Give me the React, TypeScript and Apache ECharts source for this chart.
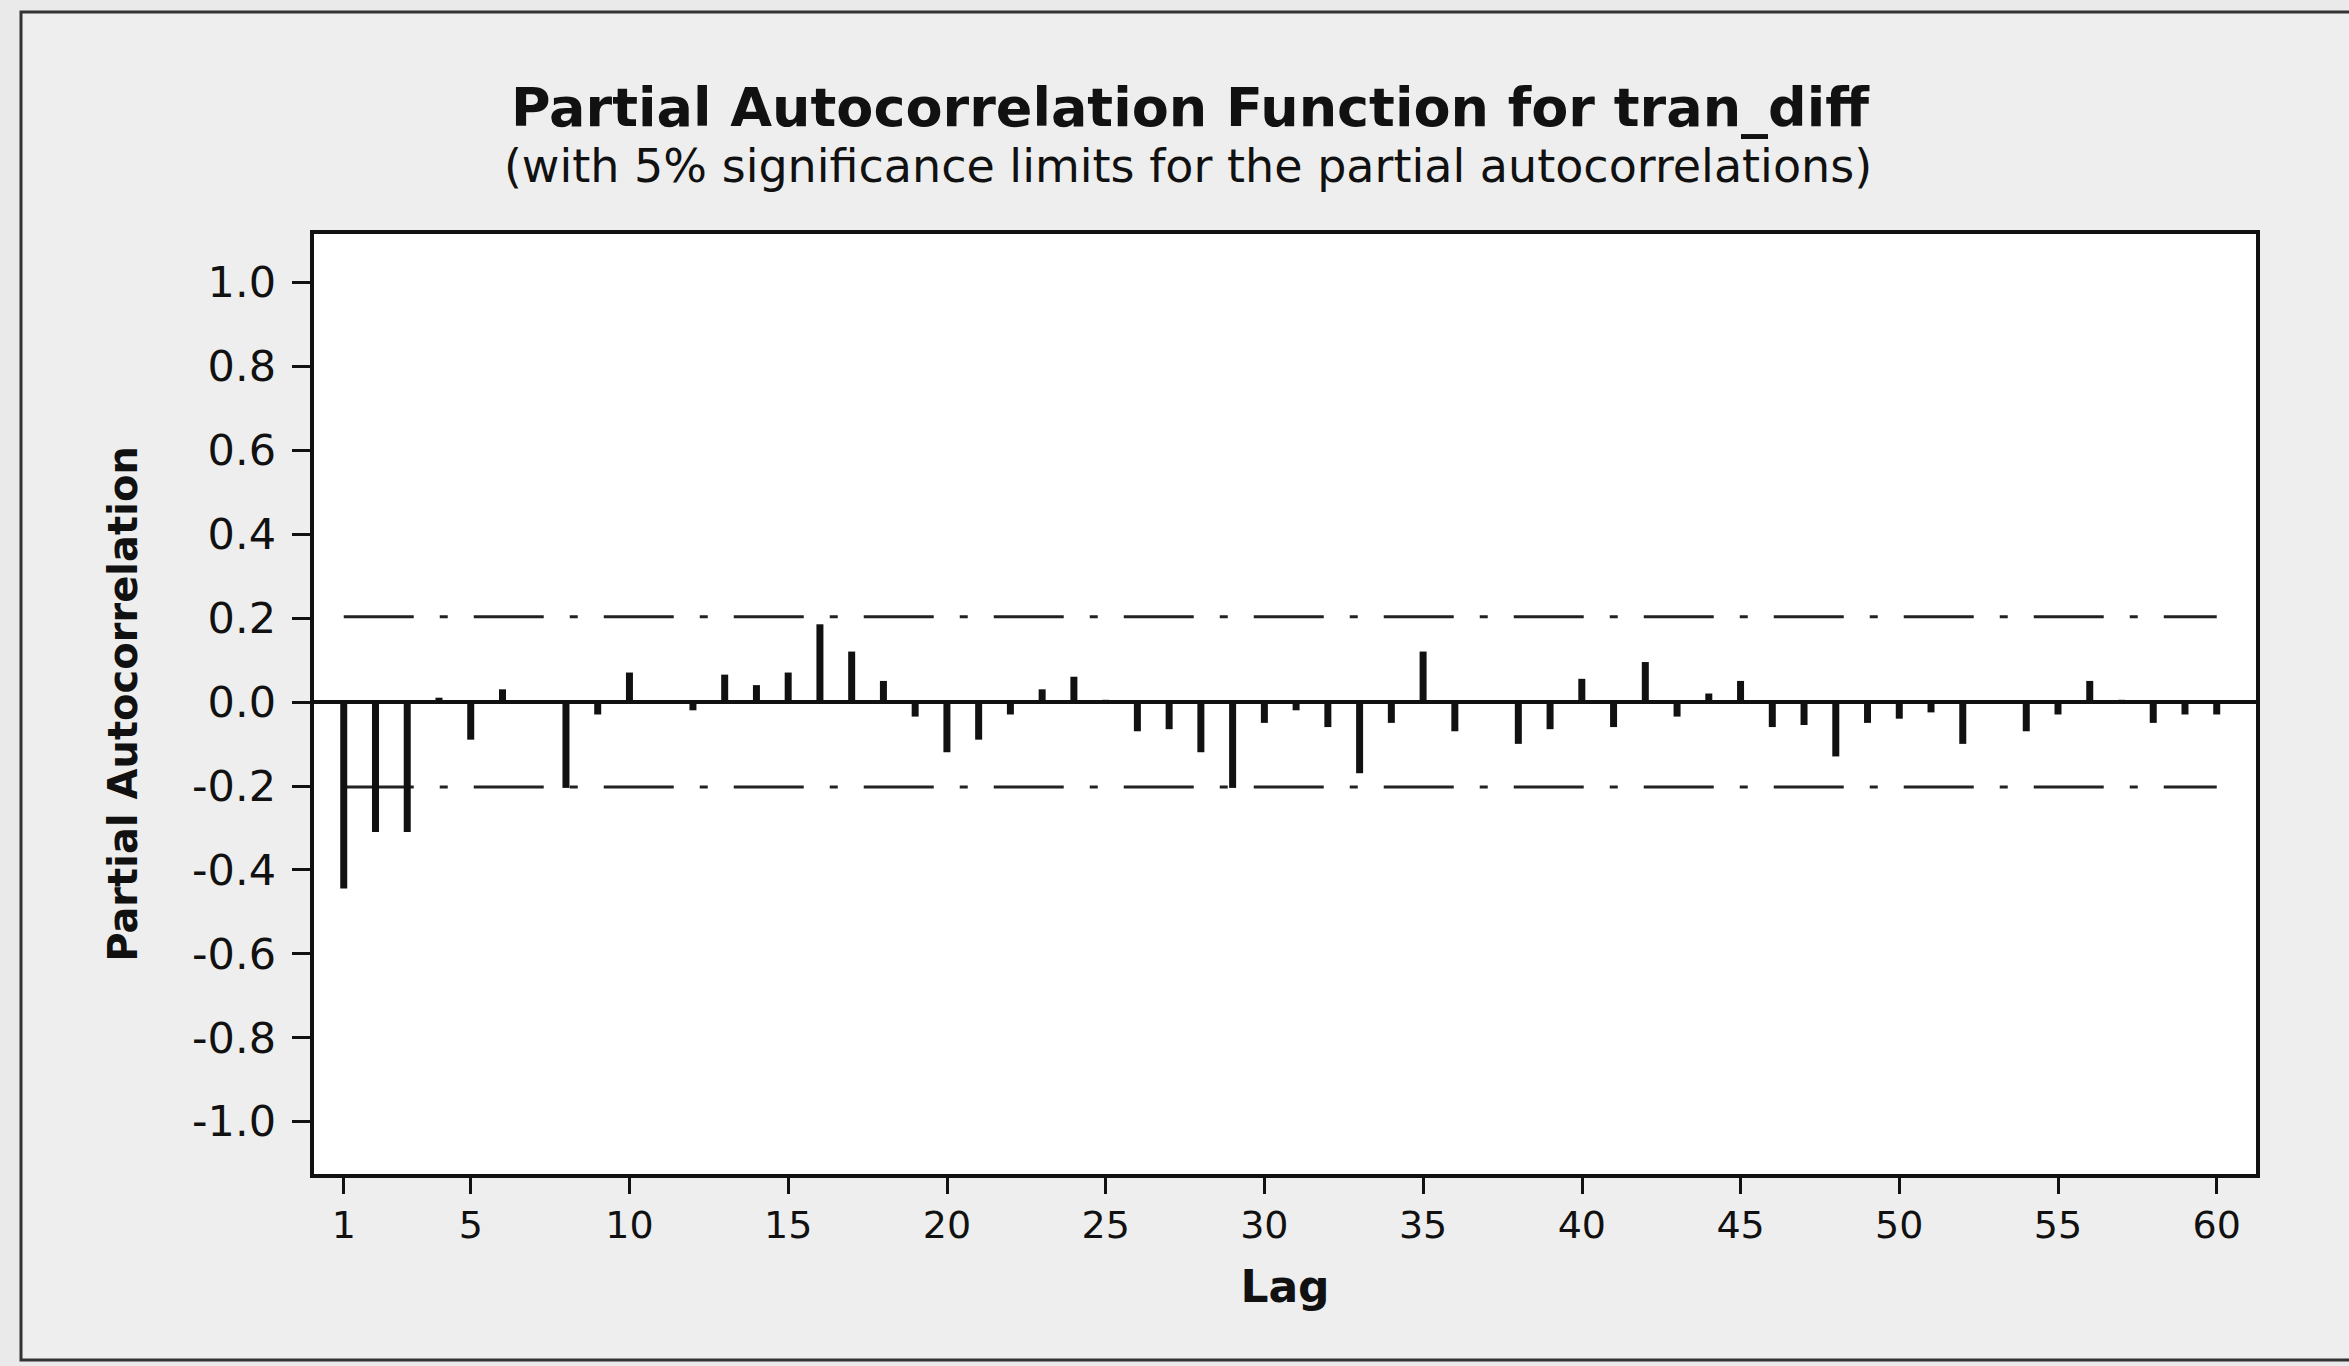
import React, { useEffect, useRef } from "react";
import * as echarts from "echarts";

const titleText = "Partial Autocorrelation Function for tran_diff";
const subtitleText = "(with 5% significance limits for the partial autocorrelations)";
const xAxisName = "Lag";
const yAxisName = "Partial Autocorrelation";

const lags = [
  1, 2, 3, 4, 5, 6, 7, 8, 9, 10, 11, 12, 13, 14, 15, 16, 17, 18, 19, 20,
  21, 22, 23, 24, 25, 26, 27, 28, 29, 30, 31, 32, 33, 34, 35, 36, 37, 38, 39, 40,
  41, 42, 43, 44, 45, 46, 47, 48, 49, 50, 51, 52, 53, 54, 55, 56, 57, 58, 59, 60,
];
const pacfValues = [
  -0.445, -0.31, -0.31, 0.01, -0.09, 0.03, -0.005, -0.205, -0.03, 0.07,
  0.003, -0.02, 0.065, 0.04, 0.07, 0.185, 0.12, 0.05, -0.035, -0.12,
  -0.09, -0.03, 0.03, 0.06, 0.005, -0.07, -0.065, -0.12, -0.205, -0.05,
  -0.02, -0.06, -0.17, -0.05, 0.12, -0.07, -0.005, -0.1, -0.065, 0.055,
  -0.06, 0.095, -0.035, 0.02, 0.05, -0.06, -0.055, -0.13, -0.05, -0.04,
  -0.025, -0.1, -0.005, -0.07, -0.03, 0.05, 0.005, -0.05, -0.03, -0.03,
];
const upperLimit = 0.203;
const lowerLimit = -0.203;
const limitLags = [1, 60];
const xTickValues = [1, 5, 10, 15, 20, 25, 30, 35, 40, 45, 50, 55, 60];
const yTickValues = [-1.0, -0.8, -0.6, -0.4, -0.2, 0.0, 0.2, 0.4, 0.6, 0.8, 1.0];

const FONT = "DejaVu Sans";
const INK = "#111111";

export default function App() {
  const ref = useRef<HTMLDivElement>(null);

  useEffect(() => {
    if (!ref.current) return;
    const chart = echarts.init(ref.current, null, { renderer: "svg" });
    const barData = lags.map((l, i) => [l, pacfValues[i]]);
    const upperData = limitLags.map((l) => [l, upperLimit]);
    const lowerData = limitLags.map((l) => [l, lowerLimit]);
    const dash = [70, 26, 8, 26];

    chart.setOption({
      animation: false,
      backgroundColor: "#eaeaea",
      graphic: [
        {
          type: "rect",
          z: -10,
          shape: { x: 21, y: 12, width: 2360, height: 1348 },
          style: { fill: "#eeeeee", stroke: "#333333", lineWidth: 3 },
          silent: true,
        },
        {
          type: "text",
          x: 1190,
          y: 107,
          style: {
            text: titleText,
            font: `bold 54px "${FONT}"`,
            fill: INK,
            textAlign: "center",
            textVerticalAlign: "middle",
          },
        },
        {
          type: "text",
          x: 1188,
          y: 166,
          style: {
            text: subtitleText,
            font: `46px "${FONT}"`,
            fill: INK,
            textAlign: "center",
            textVerticalAlign: "middle",
          },
        },
      ],
      grid: {
        left: 312,
        right: 91,
        top: 232,
        bottom: 190,
        show: true,
        backgroundColor: "#ffffff",
        borderColor: INK,
        borderWidth: 4,
      },
      xAxis: {
        type: "value",
        min: 0,
        max: 61.3,
        name: xAxisName,
        nameLocation: "middle",
        nameGap: 88,
        nameTextStyle: {
          fontFamily: FONT,
          fontSize: 44,
          fontWeight: "bold",
          color: INK,
          verticalAlign: "top",
        },
        axisLine: { show: true, onZero: false, lineStyle: { color: INK, width: 4 } },
        axisTick: {
          show: true,
          inside: false,
          length: 18,
          lineStyle: { color: INK, width: 3 },
          customValues: xTickValues,
        },
        axisLabel: {
          show: true,
          margin: 30,
          fontFamily: FONT,
          fontSize: 38,
          color: INK,
          customValues: xTickValues,
          formatter: (v: number) => String(Math.round(v)),
        },
        splitLine: { show: false },
      },
      yAxis: {
        type: "value",
        min: -1.13,
        max: 1.12,
        name: yAxisName,
        nameLocation: "middle",
        nameRotate: 90,
        nameGap: 169,
        nameTextStyle: {
          fontFamily: FONT,
          fontSize: 40,
          fontWeight: "bold",
          color: INK,
        },
        axisLine: { show: true, onZero: false, lineStyle: { color: INK, width: 4 } },
        axisTick: {
          show: true,
          inside: false,
          length: 20,
          lineStyle: { color: INK, width: 3 },
          customValues: yTickValues,
        },
        axisLabel: {
          show: true,
          margin: 36,
          fontFamily: FONT,
          fontSize: 43,
          color: INK,
          customValues: yTickValues,
          formatter: (v: number) => v.toFixed(1),
        },
        splitLine: { show: false },
      },
      series: [
        {
          type: "bar",
          data: barData,
          barWidth: 7,
          itemStyle: { color: INK },
          z: 3,
          markLine: {
            silent: true,
            symbol: ["none", "none"],
            label: { show: false },
            lineStyle: { color: INK, width: 4, type: "solid" },
            data: [{ yAxis: 0 }],
          },
        },
        {
          type: "line",
          data: upperData,
          symbol: "none",
          lineStyle: { color: "#222222", width: 3, type: dash },
          z: 2,
        },
        {
          type: "line",
          data: lowerData,
          symbol: "none",
          lineStyle: { color: "#222222", width: 3, type: dash },
          z: 2,
        },
      ],
    });

    return () => chart.dispose();
  }, []);

  return (
    <div
      ref={ref}
      style={{ position: "absolute", left: 0, top: 0, width: 2349, height: 1366 }}
    />
  );
}
